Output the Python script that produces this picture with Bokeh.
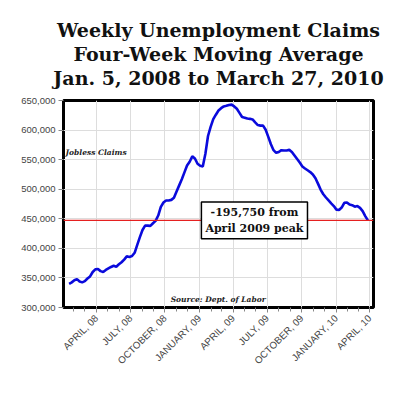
import pandas as pd
from bokeh.plotting import figure
from bokeh.models import FixedTicker, Span, Label, Title, Range1d, NumeralTickFormatter
from bokeh.embed import file_html
from bokeh.resources import INLINE

# ---- data ----
start_week = "2008-01-19"
claims = [
    340000, 342500, 346000, 348000, 344000, 342500, 344500, 349000, 352500, 360000,
    364500, 365000, 361500, 360000, 363500, 366000, 368500, 370500, 369000, 373000,
    376500, 381000, 386500, 385500, 387000, 392500, 406000, 419000, 431000, 438500,
    438500, 438000, 442500, 446500, 455500, 470000, 477500, 481000, 481000, 482000,
    485500, 496000, 506500, 517000, 528500, 540000, 546500, 555500, 552000, 543000,
    539500, 538500, 560000, 590000, 605500, 618500, 626000, 633000, 637000, 640000,
    641000, 642500, 643000, 640000, 636000, 629000, 622000, 621000, 619500, 619000,
    618000, 613000, 608500, 607500, 607500, 600500, 588500, 576000, 566000, 561500,
    563000, 566000, 565500, 565500, 566500, 563000, 557000, 551000, 545000, 538500,
    535000, 532000, 529000, 525000, 518500, 509000, 499000, 491500, 486000, 481000,
    476000, 471500, 465500, 465000, 469000, 477000, 477500, 474000, 473000, 470500,
    471500, 468500, 463000, 454500, 447250,
]
weeks = pd.date_range(start_week, periods=len(claims), freq="7D")
current_level = 447250
peak_drop_text = "-195,750 from\nApril 2009 peak"

tick_dates = ["2008-04-01", "2008-07-01", "2008-10-01", "2009-01-01", "2009-04-01",
              "2009-07-01", "2009-10-01", "2010-01-01", "2010-04-01"]
tick_labels = ["APRIL, 08", "JULY, 08", "OCTOBER, 08", "JANUARY, 09", "APRIL, 09",
               "JULY, 09", "OCTOBER, 09", "JANUARY, 10", "APRIL, 10"]
minor_dates = pd.date_range("2008-01-01", "2010-04-01", freq="MS")
y_ticks = [300000, 350000, 400000, 450000, 500000, 550000, 600000, 650000]

title_lines = ["Weekly Unemployment Claims", "Four-Week Moving Average",
               "Jan. 5, 2008 to March 27, 2010"]


def ms(d):
    return int(pd.Timestamp(d).value // 10**6)


p = figure(width=384, height=372, x_axis_type="datetime", output_backend="svg",
           toolbar_location=None,
           x_range=Range1d(pd.Timestamp("2008-01-04"), pd.Timestamp("2010-04-11")),
           y_range=Range1d(300000, 650000),
           min_border_left=63, min_border_right=11, min_border_top=100, min_border_bottom=4)

# spacer between the title block and the frame
p.add_layout(Title(text=" ", text_font_size="9px", standoff=0), "above")
for line in reversed(title_lines):
    p.add_layout(Title(text=line, align="center", text_font="DejaVu Serif",
                       text_font_style="bold", text_font_size="19px",
                       text_color="#111111", standoff=0, offset=0), "above")

p.outline_line_color = "black"
p.outline_line_width = 3

p.xgrid.grid_line_color = "#dddddd"
p.ygrid.grid_line_color = "#dddddd"

xa = p.xaxis[0]
xa.ticker = FixedTicker(ticks=[ms(d) for d in tick_dates],
                        minor_ticks=[ms(d) for d in minor_dates])
xa.major_label_overrides = {ms(d): lab for d, lab in zip(tick_dates, tick_labels)}
xa.major_label_orientation = 0.785398
xa.axis_line_color = None
xa.major_tick_line_color = "#888888"
xa.minor_tick_line_color = "#888888"
xa.major_tick_out = 5
xa.minor_tick_out = 4
xa.major_tick_in = 0
xa.minor_tick_in = 0
xa.major_label_text_font = "Liberation Sans"
xa.major_label_text_font_size = "9.8px"
xa.major_label_text_color = "#444444"
xa.major_label_standoff = 4

ya = p.yaxis[0]
ya.ticker = FixedTicker(ticks=y_ticks)
ya.formatter = NumeralTickFormatter(format="0,0")
ya.axis_line_color = None
ya.major_tick_line_color = "#888888"
ya.major_tick_out = 5
ya.major_tick_in = 0
ya.minor_tick_line_color = None
ya.major_label_text_font = "Liberation Sans"
ya.major_label_text_font_size = "9.5px"
ya.major_label_text_color = "#444444"
ya.major_label_standoff = 3

p.add_layout(Span(location=current_level, dimension="width", line_color="#e52020",
                  line_width=1.4))

p.line(weeks, claims, line_color="#0a0adc", line_width=2.6)

p.add_layout(Label(x=pd.Timestamp("2009-05-28"), y=current_level, text=peak_drop_text,
                   text_align="center", text_baseline="middle",
                   text_font="DejaVu Serif", text_font_style="bold", text_font_size="11px",
                   text_color="#111111", background_fill_color="white",
                   border_line_color="black", border_line_width=1.5, padding=4))

p.add_layout(Label(x=pd.Timestamp("2008-01-04"), y=562000, text="Jobless Claims",
                   x_offset=2, text_baseline="middle", text_font="DejaVu Serif",
                   text_font_style="bold italic", text_font_size="7.5px", text_color="#222222"))

p.add_layout(Label(x=pd.Timestamp("2009-02-20"), y=300000, text="Source: Dept. of Labor",
                   y_offset=4, text_align="center", text_baseline="bottom",
                   text_font="DejaVu Serif", text_font_style="bold italic",
                   text_font_size="7.5px", text_color="#222222"))

open("out.html", "w").write(file_html(p, INLINE))
